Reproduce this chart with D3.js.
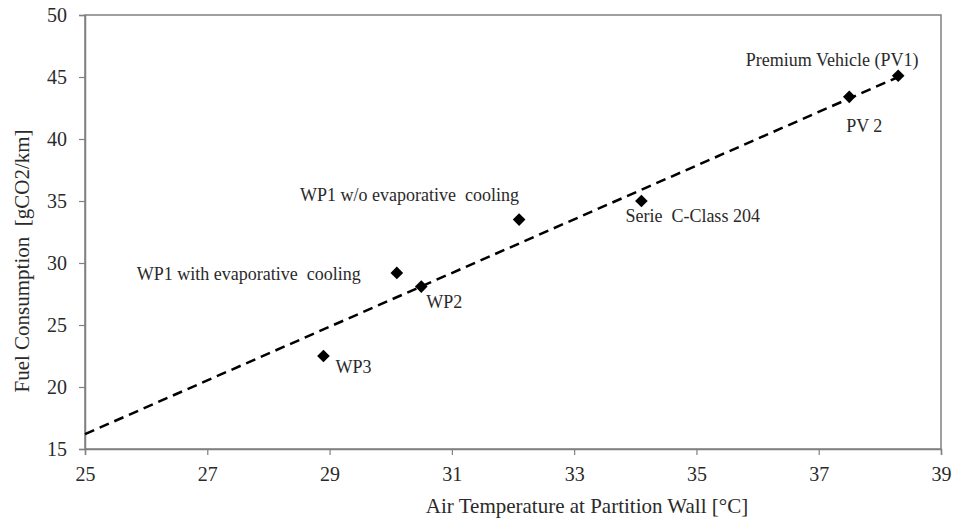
<!DOCTYPE html>
<html>
<head>
<meta charset="utf-8">
<script src="https://cdn.jsdelivr.net/npm/d3@7"></script>
<style>
  body { margin: 0; background: #fff; }
</style>
</head>
<body>
<svg id="chart" width="955" height="520"></svg>
<script>
// point labels and values
const names = ["Premium Vehicle (PV1)", "PV 2", "Serie  C-Class 204", "WP1 w/o evaporative  cooling",
               "WP1 with evaporative  cooling", "WP2", "WP3"];
const airTemp = [38.3, 37.5, 34.1, 32.1, 30.1, 30.5, 28.9];
const fuel = [45.1, 43.4, 35.0, 33.5, 29.2, 28.1, 22.5];

// dashed trend line end points
const trendX = [25, 38.3];
const trendY = [16.2, 45.0];

const xTicks = [25, 27, 29, 31, 33, 35, 37, 39];
const yTicks = [15, 20, 25, 30, 35, 40, 45, 50];

// where each label sits relative to its marker (px)
const labelOffsets = [
    { dx: -66, dy: -10, anchor: "middle" },
    { dx: 15, dy: 35, anchor: "middle" },
    { dx: -16, dy: 21, anchor: "start" },
    { dx: -219, dy: -19, anchor: "start" },
    { dx: -260, dy: 7, anchor: "start" },
    { dx: 5, dy: 21, anchor: "start" },
    { dx: 12, dy: 17, anchor: "start" }
];

const serif = "'Liberation Serif', 'Times New Roman', serif";

function drawChart() {
    const svg = d3.select("#chart");
    const margin = { top: 15, right: 14, bottom: 71, left: 85 };
    const width = 955 - margin.left - margin.right;
    const height = 520 - margin.top - margin.bottom;
    const axisColor = "#808080";
    const textColor = "#2a2a2a";

    const xScale = d3.scaleLinear().domain([25, 39]).range([0, width]);
    const yScale = d3.scaleLinear().domain([15, 50]).range([height, 0]);

    const g = svg.append("g")
        .attr("transform", `translate(${margin.left},${margin.top})`);

    // frame
    g.append("rect")
        .attr("width", width)
        .attr("height", height)
        .attr("fill", "none")
        .attr("stroke", axisColor)
        .attr("stroke-width", 1.5);

    const xAxis = g.append("g")
        .attr("transform", `translate(0,${height})`)
        .call(d3.axisBottom(xScale).tickValues(xTicks).tickSize(6).tickPadding(12).tickFormat(d3.format("d")));

    const yAxis = g.append("g")
        .call(d3.axisLeft(yScale).tickValues(yTicks).tickSize(6).tickPadding(12).tickFormat(d3.format("d")));

    [xAxis, yAxis].forEach(ax => {
        ax.attr("font-family", serif).attr("font-size", 20);
        ax.select(".domain").attr("stroke", axisColor).attr("stroke-width", 1.5);
        ax.selectAll(".tick line").attr("stroke", axisColor).attr("stroke-width", 1.2);
        ax.selectAll(".tick text").attr("fill", textColor);
    });

    // axis titles sit a little off-centre in the original
    g.append("text")
        .attr("x", width / 2 + 74)
        .attr("y", height + 64)
        .attr("text-anchor", "middle")
        .attr("fill", textColor)
        .attr("font-family", serif)
        .attr("font-size", 21)
        .text("Air Temperature at Partition Wall [°C]");

    g.append("text")
        .attr("transform", "rotate(-90)")
        .attr("x", -(height / 2 + 29))
        .attr("y", -56)
        .attr("text-anchor", "middle")
        .attr("fill", textColor)
        .attr("font-family", serif)
        .attr("font-size", 21)
        .style("white-space", "pre")
        .text("Fuel Consumption  [gCO2/km]");

    const line = d3.line()
        .x(d => xScale(d[0]))
        .y(d => yScale(d[1]));

    g.append("path")
        .datum(d3.zip(trendX, trendY))
        .attr("fill", "none")
        .attr("stroke", "#000")
        .attr("stroke-width", 2.5)
        .attr("stroke-dasharray", "10,6")
        .attr("d", line);

    const points = names.map((name, i) => ({ name, x: airTemp[i], y: fuel[i], off: labelOffsets[i] }));

    g.selectAll(".marker")
        .data(points)
        .join("path")
        .attr("class", "marker")
        .attr("d", d3.symbol().type(d3.symbolSquare).size(80))
        .attr("transform", d => `translate(${xScale(d.x)},${yScale(d.y)}) rotate(45)`)
        .attr("fill", "#000");

    g.selectAll(".label")
        .data(points)
        .join("text")
        .attr("class", "label")
        .attr("x", d => xScale(d.x) + d.off.dx)
        .attr("y", d => yScale(d.y) + d.off.dy)
        .attr("text-anchor", d => d.off.anchor)
        .attr("fill", textColor)
        .attr("font-family", serif)
        .attr("font-size", 18)
        .style("white-space", "pre")
        .text(d => d.name);
}

drawChart();
</script>
</body>
</html>
